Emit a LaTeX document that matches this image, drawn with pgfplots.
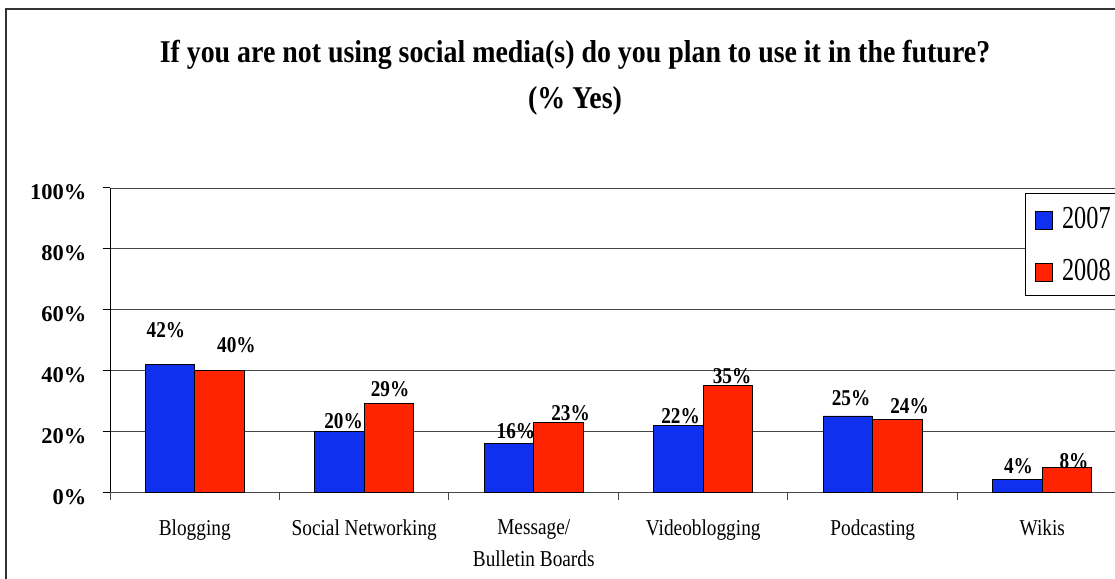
\documentclass[border=0pt]{standalone}
\usepackage{fontspec}
\setmainfont{Liberation Serif}
\newfontfamily\condA{Liberation Serif}[FakeStretch=0.85]
\newfontfamily\condT{Liberation Serif}[FakeStretch=0.88]
\newfontfamily\condL{Liberation Serif}[FakeStretch=0.76]
\usepackage{pgfplots}
\pgfplotsset{compat=1.18}
\usepackage{pgfplotstable}
\definecolor{bblue}{RGB}{16,48,240}
\definecolor{bred}{RGB}{255,36,0}
\definecolor{gridc}{RGB}{70,70,70}

% x = category index, y = percent; lx, ly = where the value label sits
\pgfplotstableread{
x y lx ly
0 42 -0.170 50.88
1 20 0.878 20.99
2 16 1.895 17.64
3 22 2.866 22.66
4 25 3.872 28.29
5 4 4.860 5.97
}\tblA
\pgfplotstableread{
x y lx ly
0 40 0.246 45.92
1 29 1.152 31.30
2 23 2.217 23.66
3 35 3.170 35.66
4 24 4.217 25.97
5 8 5.187 7.67
}\tblB

\begin{document}
\begin{tikzpicture}[x=1pt,y=1pt]
\useasboundingbox (0,0) rectangle (1115,578);
\clip (0,0) rectangle (1115,578);
\fill[white] (0,0) rectangle (1115,578);
\draw[line width=2pt, black!80] (5.7,-10) -- (5.7,569) -- (1200,569);
\node[font=\condT\bfseries\fontsize{31.7}{46}\selectfont, anchor=base, inner sep=0pt] at (575,515.3)
  {If you are not using social media(s) do you plan to use it in the future?};
\node[font=\condT\bfseries\fontsize{31.7}{46}\selectfont, anchor=base, inner sep=0pt] at (575,469)
  {(\% Yes)};
\begin{axis}[
  at={(110pt,86pt)}, anchor=south west,
  scale only axis, width=1017pt, height=304pt,
  xmin=-0.5, xmax=5.5, ymin=0, ymax=100,
  ybar=0pt, bar width=49.5pt,
  axis lines*=left,
  y axis line style={black, line width=1pt},
  x axis line style={gridc, line width=1pt},
  ytick={0,20,40,60,80,100},
  yticklabels={0\%,20\%,40\%,60\%,80\%,100\%},
  ymajorgrids, grid style={gridc, line width=0.9pt},
  tick align=outside, major tick length=7.5pt,
  ytick style={black, line width=1pt},
  xtick={-0.5,0.5,1.5,2.5,3.5,4.5,5.5},
  x tick label as interval,
  xtick style={gridc, line width=1pt},
  xticklabels={Blogging,Social Networking,{Message/\\Bulletin Boards},Videoblogging,Podcasting,Wikis},
  xticklabel style={font=\condA\fontsize{22.7}{32}\selectfont, align=center, anchor=north, inner sep=0pt, yshift=-20pt},
  yticklabel style={font=\bfseries\fontsize{22.5}{27}\selectfont, anchor=base east, inner sep=0pt, yshift=-12pt, xshift=-16pt},
  legend image code/.code={\draw[#1, draw=black, line width=0.6pt] (0pt,-11pt) rectangle (17pt,7pt);},
  legend cell align=left,
  legend style={at={(0.8997,0.984)}, anchor=north west, draw=black, line width=1pt, fill=white,
    font=\condL\fontsize{32}{32}\selectfont, inner xsep=10pt, inner ysep=14pt, row sep=29pt,
    nodes={inner sep=0pt}, /tikz/every odd column/.append style={column sep=9pt}},
  labs/.style={forget plot, bar shift=0pt, draw=none, fill=none, point meta=explicit symbolic,
    nodes near coords={\pgfplotspointmeta\%},
    every node near coord/.append style={font=\condA\bfseries\fontsize{22.6}{24}\selectfont, anchor=base, inner sep=0pt}},
]
\addplot[forget plot, bar shift=-24.75pt, fill=bblue, draw=black, line width=0.8pt]
  table[x=x,y=y] {\tblA};
\addplot[forget plot, bar shift=24.75pt, fill=bred, draw=black, line width=0.8pt]
  table[x=x,y=y] {\tblB};
\addplot[labs] table[x=lx,y=ly,meta=y] {\tblA};
\addplot[labs] table[x=lx,y=ly,meta=y] {\tblB};
\addlegendimage{fill=bblue}
\addlegendentry{2007}
\addlegendimage{fill=bred}
\addlegendentry{2008}
\end{axis}
\end{tikzpicture}
\end{document}
